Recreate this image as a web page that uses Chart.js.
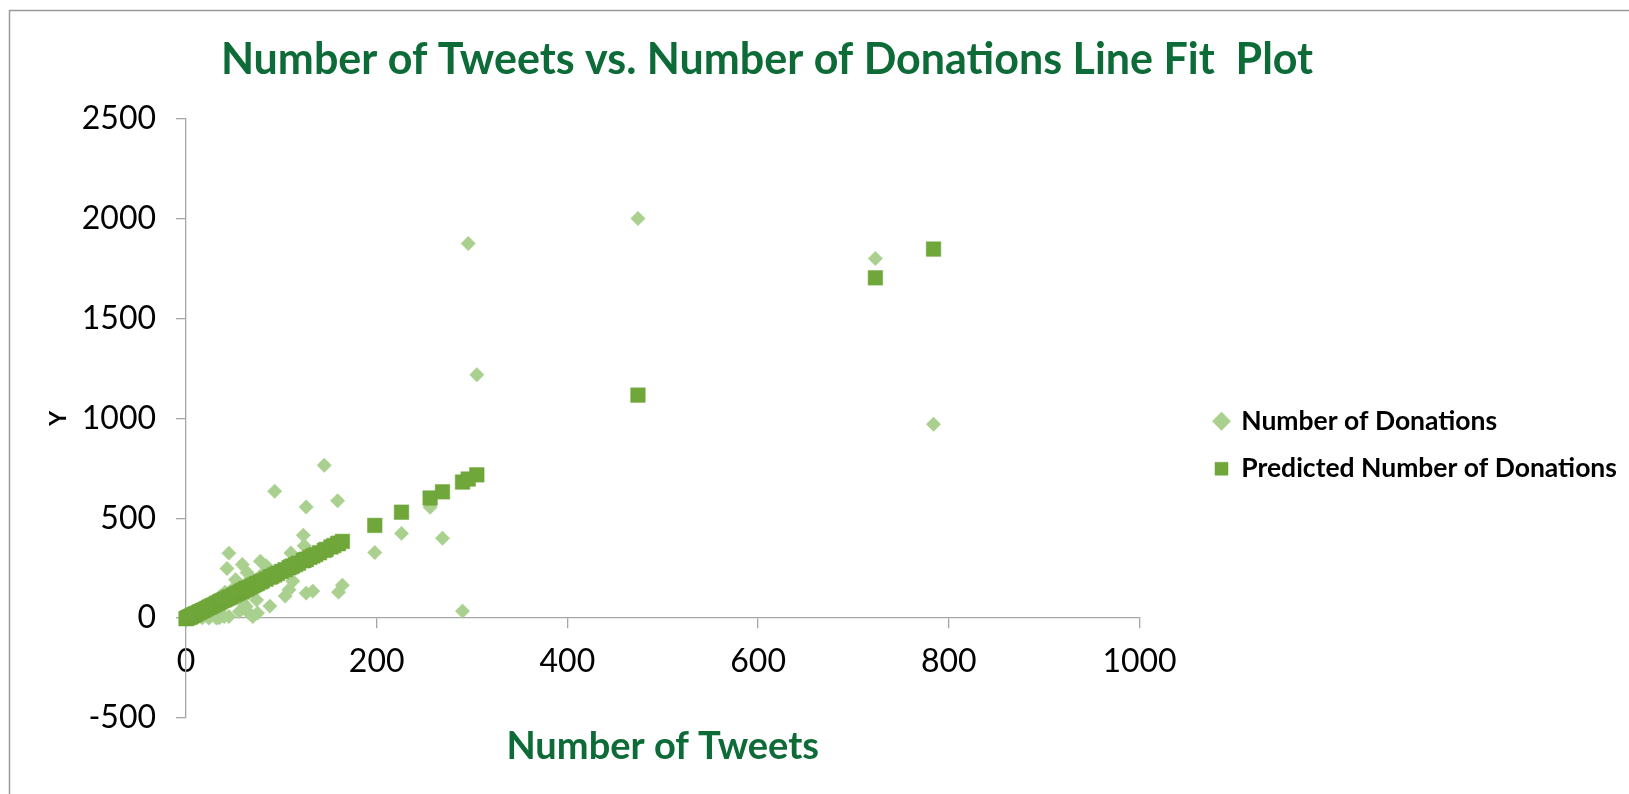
<!DOCTYPE html>
<html>
<head>
<meta charset="utf-8">
<script src="https://cdn.jsdelivr.net/npm/chart.js@4.4.1/dist/chart.umd.min.js"></script>
<style>
  html, body { margin: 0; padding: 0; background: #ffffff; }
  canvas { display: block; }
</style>
</head>
<body>
<canvas id="chart" width="1629" height="794"></canvas>
<script>
// Number of tweets per campaign (x values)
const tweets = [
  0, 1, 2, 3, 4, 5, 6, 7, 8, 9, 10, 11, 13, 14, 15, 17, 18, 20, 22, 24,
  25, 27, 28, 30, 32, 33, 35, 36, 38, 40, 41, 43, 45, 45, 47, 50, 52, 54, 56, 58,
  59, 60, 62, 63, 63, 64, 66, 68, 70, 72, 74, 75, 78, 80, 84, 88, 90, 93, 96, 100,
  104, 108, 110, 112, 115, 118, 123, 124, 126, 126, 130, 133, 136, 140, 145, 147, 152, 155, 159, 160,
  164, 198, 226, 256, 269, 290, 296, 305, 474, 723, 784
];

// Observed number of donations
const donations = [
  0, 5, 0, 12, 3, 20, 8, 15, 30, 5, 25, 0, 40, 10, 35, 2, 55, 30, 60, 0,
  75, 45, 20, 90, 0, 70, 2, 110, 60, 8, 130, 248, 325, 8, 100, 150, 192, 120, 33, 160,
  268, 75, 140, 116, 58, 228, 25, 200, 8, 180, 91, 25, 285, 220, 262, 60, 230, 635, 240, 230,
  110, 142, 326, 185, 280, 270, 415, 362, 556, 125, 300, 135, 320, 330, 765, 350, 360, 370, 587, 130,
  165, 328, 424, 555, 400, 35, 1875, 1218, 2000, 1800, 970
];

// Predicted number of donations from the fitted line
const predicted = [
  -3, -1, 2, 4, 6, 9, 11, 14, 16, 18, 21, 23, 28, 30, 32, 37, 39, 44, 49, 54,
  56, 61, 63, 68, 73, 75, 80, 82, 87, 91, 94, 98, 103, 103, 108, 115, 120, 124, 129, 134,
  136, 139, 143, 146, 146, 148, 153, 157, 162, 167, 172, 174, 181, 186, 195, 205, 209, 216, 224, 233,
  242, 252, 257, 261, 268, 275, 287, 290, 294, 294, 304, 311, 318, 327, 339, 344, 356, 363, 372, 375,
  384, 464, 530, 601, 632, 681, 696, 717, 1116, 1703, 1847
];

const xTicks = [0, 200, 400, 600, 800, 1000];
const yTicks = [-500, 0, 500, 1000, 1500, 2000, 2500];

const FONT = 'Lato, "Open Sans", sans-serif';
const GREEN_TEXT = '#0c6b37';
const LIGHT = '#a9d08e';
const DARK = '#70a73a';
const AXIS = '#a6a6a6';

// Outer frame of the chart object
const framePlugin = {
  id: 'frame',
  beforeDraw(chart) {
    const ctx = chart.ctx;
    ctx.save();
    ctx.fillStyle = '#ffffff';
    ctx.fillRect(0, 0, chart.width, chart.height);
    ctx.strokeStyle = '#9a9a9a';
    ctx.lineWidth = 1.5;
    ctx.beginPath();
    ctx.moveTo(9.5, chart.height);
    ctx.lineTo(9.5, 10.5);
    ctx.lineTo(chart.width, 10.5);
    ctx.stroke();
    ctx.restore();
  }
};

// Place the title and legend blocks after the plot area is laid out
const blockPlacement = {
  id: 'blockPlacement',
  afterLayout(chart) {
    const t = chart.titleBlock;
    if (t) { t.left = 0; t.right = 1534; }
    const lg = chart.legend;
    if (lg) {
      const dy = 86;
      lg.left = 1194;
      lg.right = 1629;
      lg.width = lg.right - lg.left;
      lg.top += dy;
      lg.bottom += dy;
    }
  }
};

const pts = (ys) => tweets.map((x, i) => ({ x: x, y: ys[i] }));
const plain = (v) => String(v);

new Chart(document.getElementById('chart'), {
  type: 'scatter',
  data: {
    datasets: [
      {
        label: 'Number of Donations',
        data: pts(donations),
        pointStyle: 'rectRot',
        pointRadius: 7.2,
        pointHoverRadius: 7.2,
        backgroundColor: LIGHT,
        borderColor: LIGHT,
        borderWidth: 0.5,
        order: 1
      },
      {
        label: 'Predicted Number of Donations',
        data: pts(predicted),
        pointStyle: 'rect',
        pointRadius: 10.3,
        pointHoverRadius: 10.3,
        backgroundColor: DARK,
        borderColor: DARK,
        borderWidth: 0.5,
        order: 0
      }
    ]
  },
  options: {
    responsive: false,
    devicePixelRatio: 1,
    animation: false,
    clip: false,
    layout: { padding: { left: 0, right: 0, top: 0, bottom: 76 } },
    plugins: {
      tooltip: { enabled: false },
      title: {
        display: true,
        text: 'Number of Tweets vs. Number of Donations Line Fit  Plot',
        color: GREEN_TEXT,
        font: { family: FONT, size: 43, weight: 'bold' },
        padding: { top: 34, bottom: 33 }
      },
      legend: {
        position: 'right',
        align: 'center',
        labels: {
          usePointStyle: true,
          boxWidth: 13,
          boxHeight: 13,
          color: '#000000',
          font: { family: FONT, size: 26.5, weight: 'bold' },
          padding: 21,
          sort: (a, b) => a.datasetIndex - b.datasetIndex
        }
      }
    },
    scales: {
      x: {
        type: 'linear',
        position: { y: 0 },
        min: 0,
        max: 1000,
        afterBuildTicks: (axis) => { axis.ticks = xTicks.map(v => ({ value: v })); },
        ticks: {
          color: '#000000',
          font: { family: FONT, size: 32 },
          padding: 14,
          maxRotation: 0,
          callback: plain
        },
        grid: { drawOnChartArea: false, drawTicks: true, tickLength: 10, color: AXIS, lineWidth: 1.3 },
        border: { color: AXIS, width: 1.3 },
        title: {
          display: true,
          text: 'Number of Tweets',
          color: GREEN_TEXT,
          font: { family: FONT, size: 38, weight: 'bold' },
          padding: { top: 29, bottom: 0 }
        }
      },
      y: {
        type: 'linear',
        position: 'left',
        min: -500,
        max: 2500,
        afterBuildTicks: (axis) => { axis.ticks = yTicks.map(v => ({ value: v })); },
        afterFit: (scale) => { scale.width = 186; },
        ticks: {
          color: '#000000',
          font: { family: FONT, size: 32 },
          padding: 20,
          callback: plain
        },
        grid: { drawOnChartArea: false, drawTicks: true, tickLength: 10, color: AXIS, lineWidth: 1.3 },
        border: { color: AXIS, width: 1.3 },
        title: {
          display: true,
          text: 'Y',
          color: '#000000',
          font: { family: FONT, size: 23, weight: 'bold' },
          padding: { top: 45, bottom: 0 }
        }
      },
      gap: {
        type: 'linear',
        position: 'right',
        display: true,
        afterFit: (scale) => { scale.width = 218; },
        ticks: { display: false },
        grid: { display: false, drawTicks: false },
        border: { display: false },
        title: { display: false }
      }
    }
  },
  plugins: [framePlugin, blockPlacement]
});
</script>
</body>
</html>
